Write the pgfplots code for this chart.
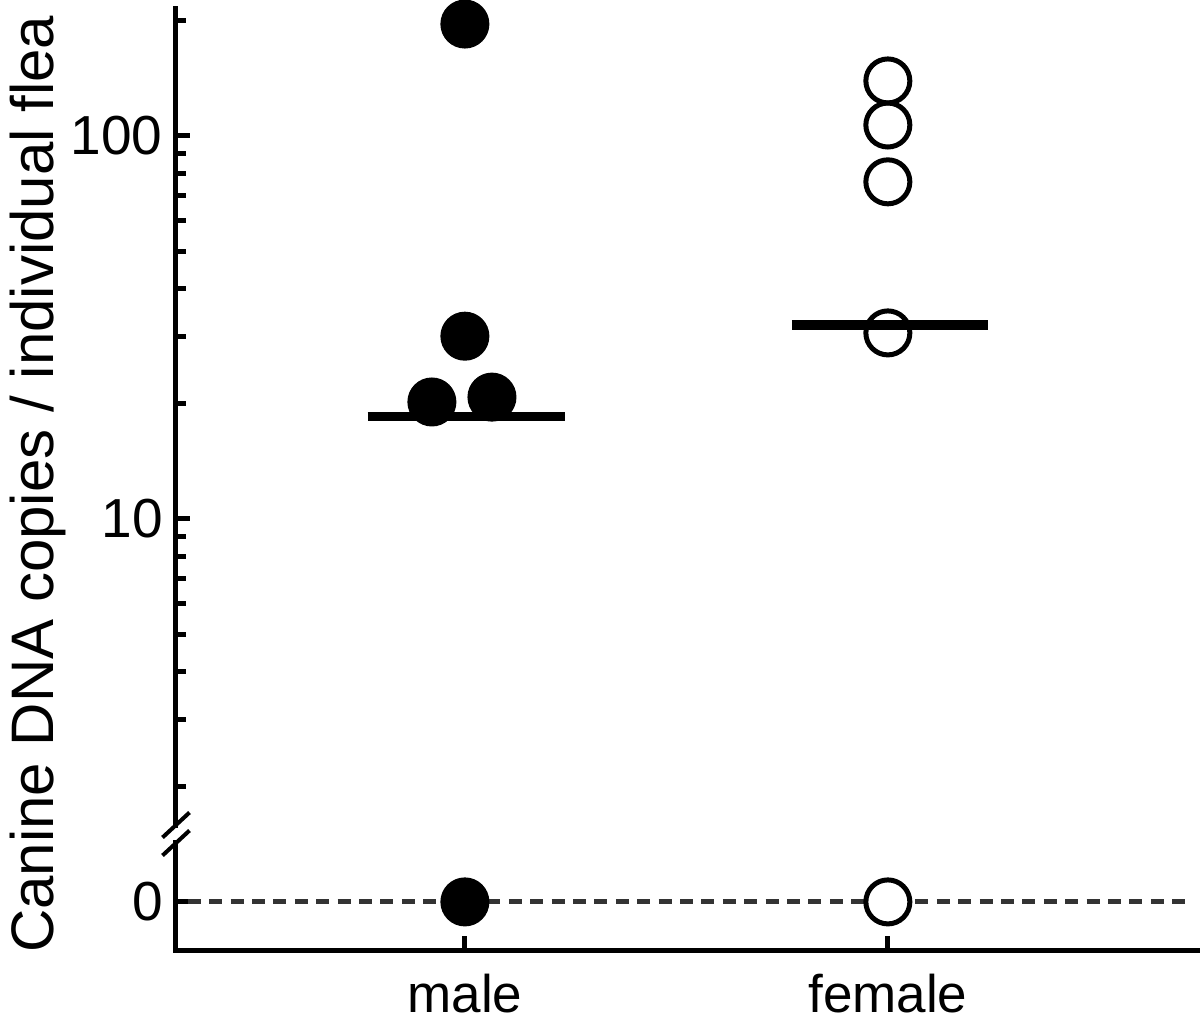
\documentclass[border=0pt]{standalone}
\usepackage{fontspec}
\setmainfont{Liberation Sans}
\usepackage{pgfplots}
\pgfplotsset{compat=1.18}

\begin{document}
\begin{tikzpicture}
\begin{axis}[
  at={(88pt,40pt)}, anchor=south west,
  scale only axis, width=512pt, height=471pt,
  ymode=log, ymin=0.749, ymax=215.8,
  xmin=0.317, xmax=2.738,
  axis lines=left,
  axis line style={-, line width=2.5pt, line cap=rect},
  tick align=inside,
  major tick length=7pt, minor tick length=5pt,
  every tick/.style={black, line width=2.5pt},
  xtick={1,2}, xticklabels={male,female},
  ytick={1,10,100}, yticklabels={0,10,100},
  minor ytick={2,3,4,5,6,7,8,9,20,30,40,50,60,70,80,90,200},
  yticklabel style={font=\fontsize{27.5}{33}\selectfont, anchor=east, inner sep=0pt, xshift=-6.5pt},
  xticklabel style={font=\fontsize{26.5}{32}\selectfont, anchor=base, inner sep=0pt, yshift=-31pt},
  ylabel={Canine DNA copies / individual flea},
  ylabel style={font=\fontsize{30}{36}\selectfont, at={(axis description cs:-0.1201,0.4945)}, anchor=base, inner sep=0pt},
  clip=false,
]
% zero line (the "0" level sits below the axis break)
\addplot[black!80, line width=2.5pt, dash pattern=on 6.5pt off 4.2pt] coordinates {(0.345,1)(2.714,1)};
% male
\addplot[only marks, mark=*, mark size=11pt, mark options={draw=black, fill=black, line width=2.5pt}]
  coordinates {(1,196)(1,30)(0.922,20.2)(1.064,20.8)(1,1)};
% female
\addplot[only marks, mark=o, mark size=11pt, mark options={draw=black, line width=2.5pt}]
  coordinates {(2,139.2)(2,106.8)(2,75.9)(2,30.6)};
\addplot[only marks, mark=*, mark size=11pt, mark options={draw=black, fill=white, line width=2.5pt}]
  coordinates {(2,1)};
% medians
\addplot[black, line width=4.8pt] coordinates {(0.770,18.5)(1.236,18.5)};
\addplot[black, line width=4.8pt] coordinates {(1.773,32.1)(2.236,32.1)};
\end{axis}
% axis break
\fill[white] (85pt,95pt) rectangle (91.5pt,101pt);
\draw[line width=2pt] (81.25pt,96.25pt)--(94.75pt,108.75pt);
\draw[line width=2pt] (81.25pt,87.25pt)--(94.75pt,99.75pt);
\pgfresetboundingbox
\useasboundingbox (0,0) rectangle (600pt,515pt);
\end{tikzpicture}
\end{document}
